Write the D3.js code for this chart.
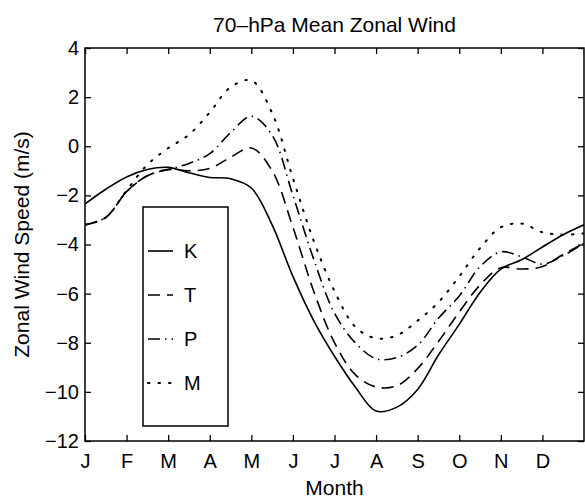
<!DOCTYPE html>
<html>
<head>
<meta charset="utf-8">
<script src="https://cdn.jsdelivr.net/npm/d3@7"></script>
<style>
  html, body { margin: 0; padding: 0; background: #fff; }
  svg { display: block; font-family: "Liberation Sans", Arial, Helvetica, sans-serif; }
</style>
</head>
<body>
<svg id="chart" width="585" height="498"></svg>
<script>
// Month labels along the time axis (tick i sits at month index i)
const monthLabels = ["J", "F", "M", "A", "M", "J", "J", "A", "S", "O", "N", "D"];

// Sample positions in months (half-month steps from Jan to the end of Dec)
const monthPos = [0, 0.5, 1, 1.5, 2, 2.5, 3, 3.5, 4, 4.5, 5, 5.5, 6,
                  6.5, 7, 7.5, 8, 8.5, 9, 9.5, 10, 10.5, 11, 11.5, 12];

// 70-hPa mean zonal wind (m/s) for each series
const windK = [-2.35, -1.75, -1.25, -0.95, -0.86, -1.08, -1.27, -1.32, -1.7, -3.2, -5.3, -7.1, -8.55,
               -9.8, -10.78, -10.62, -9.9, -8.5, -7.25, -5.95, -5.0, -4.62, -4.1, -3.6, -3.2];
const windT = [-3.2, -2.9, -1.85, -1.2, -0.95, -1.0, -0.9, -0.45, -0.07, -1.0, -3.3, -5.9, -8.0,
               -9.3, -9.8, -9.75, -9.05, -7.95, -6.75, -5.65, -4.95, -5.0, -4.9, -4.4, -3.95];
const windP = [-3.2, -2.9, -1.85, -1.2, -0.95, -0.7, -0.3, 0.55, 1.22, 0.45, -2.0, -4.6, -6.8,
               -8.0, -8.65, -8.6, -8.1, -7.0, -6.1, -4.9, -4.3, -4.5, -4.8, -4.45, -3.95];
const windM = [-3.2, -2.9, -1.8, -0.75, -0.08, 0.47, 1.38, 2.4, 2.68, 1.35, -1.3, -3.85, -5.9,
               -7.35, -7.82, -7.7, -7.1, -6.35, -5.3, -4.15, -3.3, -3.15, -3.5, -3.6, -3.55];

// Y tick values
const yTicks = [-12, -10, -8, -6, -4, -2, 0, 2, 4];

const seriesNames = ["K", "T", "P", "M"];
const seriesValues = [windK, windT, windP, windM];
const seriesDash = [null, "12,7", "12,5,1.5,5", "1.5,9"];

const svg = d3.select("#chart");
const plot = { left: 85, right: 584, top: 48, bottom: 441 };

const x = d3.scaleLinear().domain([0, 12]).range([plot.left, plot.right]);
const y = d3.scaleLinear().domain([-12, 4]).range([plot.bottom, plot.top]);

const tickFont = 20;
const labelFont = 21;

// Plot frame
svg.append("rect")
  .attr("x", plot.left).attr("y", plot.top)
  .attr("width", plot.right - plot.left).attr("height", plot.bottom - plot.top)
  .attr("fill", "none").attr("stroke", "#000").attr("stroke-width", 1.5);

// Axes with inward ticks
const tickLen = 6;
const xBottom = d3.axisBottom(x).tickValues(d3.range(12))
  .tickFormat(i => monthLabels[i]).tickSizeInner(-tickLen).tickSizeOuter(0).tickPadding(13);
const xTop = d3.axisTop(x).tickValues(d3.range(12))
  .tickFormat("").tickSizeInner(-tickLen).tickSizeOuter(0);
const yLeft = d3.axisLeft(y).tickValues(yTicks)
  .tickFormat(d => d < 0 ? "\u2212" + Math.abs(d) : String(d))
  .tickSizeInner(-tickLen).tickSizeOuter(0).tickPadding(6);
const yRight = d3.axisRight(y).tickValues(yTicks)
  .tickFormat("").tickSizeInner(-tickLen).tickSizeOuter(0);

function styleAxis(g) {
  g.select(".domain").remove();
  g.selectAll(".tick line").attr("stroke", "#000").attr("stroke-width", 1.3);
  g.selectAll(".tick text").attr("fill", "#000")
    .style("font-size", tickFont + "px")
    .style("font-family", "'Liberation Sans', Arial, sans-serif");
}

svg.append("g").attr("transform", `translate(0,${plot.bottom})`).call(xBottom).call(styleAxis);
svg.append("g").attr("transform", `translate(0,${plot.top})`).call(xTop).call(styleAxis);
svg.append("g").attr("transform", `translate(${plot.left},0)`).call(yLeft).call(styleAxis);
svg.append("g").attr("transform", `translate(${plot.right},0)`).call(yRight).call(styleAxis);

// Wind curves
const line = d3.line()
  .x((d, i) => x(monthPos[i]))
  .y(d => y(d))
  .curve(d3.curveCatmullRom.alpha(0.5));

svg.append("clipPath").attr("id", "plotclip")
  .append("rect").attr("x", plot.left).attr("y", plot.top)
  .attr("width", plot.right - plot.left).attr("height", plot.bottom - plot.top);

seriesValues.forEach((vals, k) => {
  svg.append("path")
    .datum(vals)
    .attr("clip-path", "url(#plotclip)")
    .attr("d", line)
    .attr("fill", "none")
    .attr("stroke", "#000")
    .attr("stroke-width", k === 3 ? 2 : 1.6)
    .attr("stroke-linecap", k === 3 ? "round" : "butt")
    .attr("stroke-dasharray", seriesDash[k]);
});

// Legend box
const legend = { x: 143, y: 207, w: 85, h: 219 };
svg.append("rect")
  .attr("x", legend.x).attr("y", legend.y).attr("width", legend.w).attr("height", legend.h)
  .attr("fill", "#fff").attr("stroke", "#000").attr("stroke-width", 1.5);

const legendY = d3.scalePoint().domain(seriesNames).range([251, 383]);
seriesNames.forEach((name, k) => {
  const ly = legendY(name);
  svg.append("line")
    .attr("x1", 148).attr("x2", 173).attr("y1", ly).attr("y2", ly)
    .attr("stroke", "#000")
    .attr("stroke-width", k === 3 ? 2 : 1.6)
    .attr("stroke-linecap", k === 3 ? "round" : "butt")
    .attr("stroke-dasharray", seriesDash[k]);
  svg.append("text")
    .attr("x", 184).attr("y", ly + 7)
    .style("font-size", tickFont + "px")
    .text(name);
});

// Titles
svg.append("text")
  .attr("x", (plot.left + plot.right) / 2).attr("y", 32)
  .attr("text-anchor", "middle")
  .style("font-size", labelFont + "px")
  .text("70\u2013hPa Mean Zonal Wind");

svg.append("text")
  .attr("x", (plot.left + plot.right) / 2).attr("y", 495)
  .attr("text-anchor", "middle")
  .style("font-size", labelFont + "px")
  .text("Month");

svg.append("text")
  .attr("transform", `translate(29,${(plot.top + plot.bottom) / 2}) rotate(-90)`)
  .attr("text-anchor", "middle")
  .style("font-size", labelFont + "px")
  .text("Zonal Wind Speed (m/s)");
</script>
</body>
</html>
